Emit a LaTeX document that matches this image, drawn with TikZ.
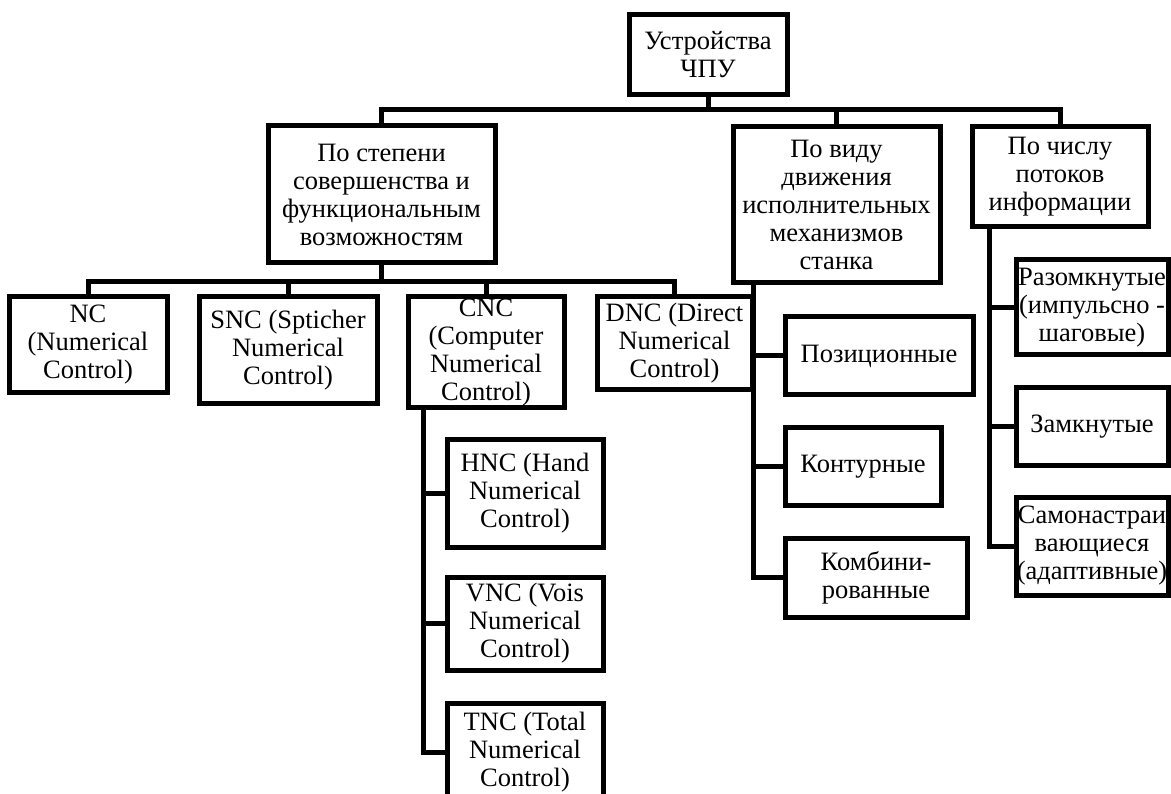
\documentclass[tikz,border=0pt]{standalone}
\usepackage{fontspec}
\setmainfont{Liberation Serif}
\begin{document}
\begin{tikzpicture}[x=1pt,y=-1pt,
  box/.style={draw=black,line width=5pt,inner sep=0pt,outer sep=0pt,align=center,
    font=\fontsize{26.5}{28}\selectfont},
  conn/.style={draw=black,line width=5pt}]
\clip (0,0) rectangle (1171,794);
\fill[white] (0,0) rectangle (1171,794);
% top
\node[box,minimum width=158pt,minimum height=80pt] (top) at (708,55) {Устройства\\ЧПУ};
% level 1
\node[box,minimum width=227pt,minimum height=137pt] (A) at (381.5,194.5) {По степени\\совершенства и\\функциональным\\возможностям};
\node[box,minimum width=207pt,minimum height=156pt] (B) at (836.5,205) {По виду\\движения\\исполнительных\\механизмов\\станка};
\node[box,minimum width=176pt,minimum height=100pt] (C) at (1060,177) {По числу\\потоков\\информации};
% level 2 under A
\node[box,minimum width=158pt,minimum height=96pt] (nc) at (88,345) {NC\\(Numerical\\Control)};
\node[box,minimum width=178pt,minimum height=107pt] (snc) at (288,350.5) {SNC (Spticher\\Numerical\\Control)};
\node[box,minimum width=156pt,minimum height=111pt] (cnc) at (486,352.5) {CNC\\(Computer\\Numerical\\Control)};
\node[box,minimum width=155pt,minimum height=93pt] (dnc) at (674.5,343.5) {DNC (Direct\\Numerical\\Control)};
% under CNC
\node[box,minimum width=156pt,minimum height=107pt] (hnc) at (525,493.5) {HNC (Hand\\Numerical\\Control)};
\node[box,minimum width=156pt,minimum height=93pt] (vnc) at (525,623.5) {VNC (Vois\\Numerical\\Control)};
\node[box,minimum width=156pt,minimum height=98pt] (tnc) at (525,752) {TNC (Total\\Numerical\\Control)};
% under B
\node[box,minimum width=188pt,minimum height=78pt] (poz) at (879,356) {Позиционные};
\node[box,minimum width=156pt,minimum height=77pt] (kont) at (863,466.5) {Контурные};
\node[box,minimum width=182pt,minimum height=79pt] (komb) at (876,577.5) {Комбини-\\рованные};
% under C
\node[box,minimum width=152pt,minimum height=95pt] (raz) at (1092,307.5) {Разомкнутые\\(импульсно -\\шаговые)};
\node[box,minimum width=152pt,minimum height=77pt] (zam) at (1092,426.5) {Замкнутые};
\node[box,minimum width=152pt,minimum height=98pt] (sam) at (1092,546) {Самонастраи\\вающиеся\\(адаптивные)};
% connectors
\coordinate (bar1) at (0,110);
\coordinate (bar2) at (0,282);
\draw[conn] (top.south) -- (top.south |- bar1);
\draw[conn] (A.north) -- (A.north |- bar1) -- (C.north |- bar1) -- (C.north);
\draw[conn] (B.north) -- (B.north |- bar1);
\draw[conn] (A.south) -- (A.south |- bar2);
\draw[conn] (nc.north) -- (nc.north |- bar2) -- (dnc.north |- bar2) -- (dnc.north);
\draw[conn] (snc.north) -- (snc.north |- bar2);
\draw[conn] (cnc.north) -- (cnc.north |- bar2);
% CNC trunk
\coordinate (tc) at (423,0);
\draw[conn] (cnc.south -| tc) -- (tnc.west -| tc) -- (tnc.west);
\draw[conn] (hnc.west -| tc) -- (hnc.west);
\draw[conn] (vnc.west -| tc) -- (vnc.west);
% B trunk
\coordinate (tb) at (753,0);
\draw[conn] (B.south -| tb) -- (komb.west -| tb) -- (komb.west);
\draw[conn] (poz.west -| tb) -- (poz.west);
\draw[conn] (kont.west -| tb) -- (kont.west);
% C trunk
\coordinate (tcc) at (989,0);
\draw[conn] (C.south -| tcc) -- (sam.west -| tcc) -- (sam.west);
\draw[conn] (raz.west -| tcc) -- (raz.west);
\draw[conn] (zam.west -| tcc) -- (zam.west);
\end{tikzpicture}
\end{document}
